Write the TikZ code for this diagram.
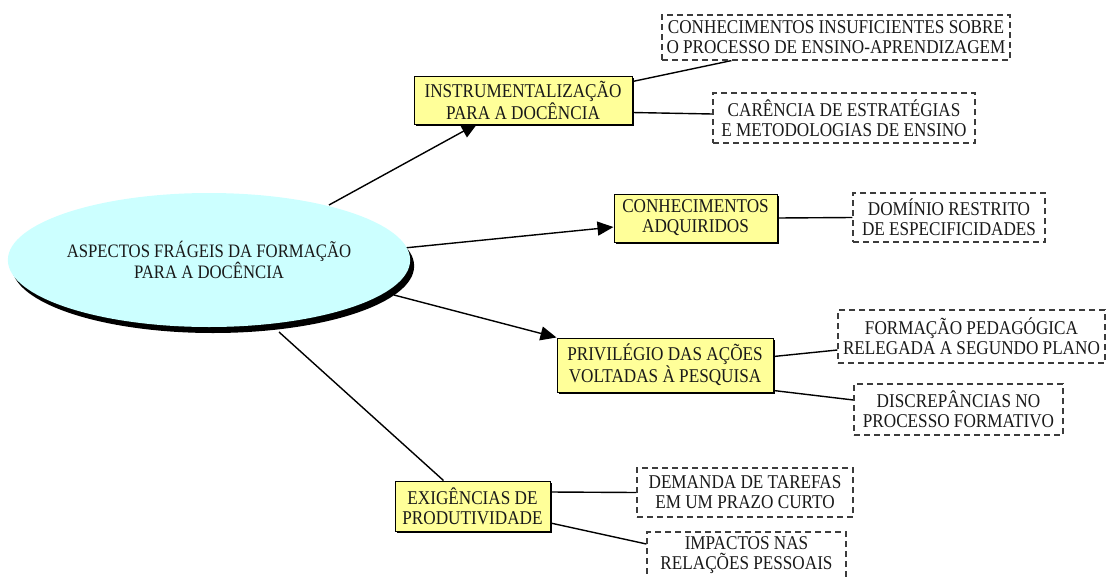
\documentclass[tikz,border=0pt]{standalone}
\usepackage{fontspec}
\setmainfont[FakeStretch=0.88]{Liberation Serif}
\usetikzlibrary{shapes.geometric,arrows.meta,calc,shadows}
\pgfdeclarelayer{background}
\pgfsetlayers{background,main}
\definecolor{cyanfill}{RGB}{204,255,255}
\definecolor{yelfill}{RGB}{255,255,153}
\definecolor{txt}{RGB}{25,25,25}
\definecolor{dashc}{RGB}{60,60,60}
\begin{document}
\begin{tikzpicture}[x=1pt,y=-1pt,
  every node/.style={text=txt, align=center, inner sep=0pt},
  mainell/.style={ellipse, fill=cyanfill, minimum width=398pt, minimum height=134pt,
    drop shadow={shadow xshift=4pt, shadow yshift=-6pt, fill=black, opacity=1},
    font=\fontsize{19}{20}\selectfont},
  ybox/.style={rectangle, fill=yelfill, draw=black, line width=1pt,
    drop shadow={shadow xshift=2pt, shadow yshift=-2pt, fill=black, opacity=1},
    font=\fontsize{19.5}{20}\selectfont},
  dbox/.style={rectangle, fill=white, draw=dashc, line width=1.2pt,
    dash pattern=on 6pt off 4pt, font=\fontsize{19.5}{20}\selectfont},
  conn/.style={draw=black, line width=1.4pt},
  arr/.style={conn, -{Triangle[length=16pt,width=14pt]}}
]
\useasboundingbox (0,0) rectangle (1109,576);

\node[mainell] (el) at (209,260) {ASPECTOS FRÁGEIS DA FORMAÇÃO\\PARA A DOCÊNCIA};

\node[ybox, minimum width=218pt, minimum height=48pt] (b1) at (523,100) {INSTRUMENTALIZAÇÃO\\PARA A DOCÊNCIA};
\node[ybox, minimum width=163pt, minimum height=48pt] (b2) at (695.5,218) {CONHECIMENTOS\\ADQUIRIDOS};
\node[ybox, minimum width=216pt, minimum height=54pt] (b3) at (665,365) {PRIVILÉGIO DAS AÇÕES\\VOLTADAS À PESQUISA};
\node[ybox, minimum width=155pt, minimum height=50pt] (b4) at (472.5,506) {EXIGÊNCIAS DE\\PRODUTIVIDADE};

\node[dbox, minimum width=348pt, minimum height=45pt] (d1) at (836,37.5) {CONHECIMENTOS INSUFICIENTES SOBRE\\O PROCESSO DE ENSINO-APRENDIZAGEM};
\node[dbox, minimum width=262pt, minimum height=50pt] (d2) at (844,118) {CARÊNCIA DE ESTRATÉGIAS\\E METODOLOGIAS DE ENSINO};
\node[dbox, minimum width=192pt, minimum height=49pt] (d3) at (949,217.5) {DOMÍNIO RESTRITO\\DE ESPECIFICIDADES};
\node[dbox, minimum width=267pt, minimum height=53pt] (d4) at (971.5,336.5) {FORMAÇÃO PEDAGÓGICA\\RELEGADA A SEGUNDO PLANO};
\node[dbox, minimum width=209pt, minimum height=51pt] (d5) at (958.5,409.5) {DISCREPÂNCIAS NO\\PROCESSO FORMATIVO};
\node[dbox, minimum width=216pt, minimum height=49pt] (d6) at (745,492.5) {DEMANDA DE TAREFAS\\EM UM PRAZO CURTO};
\node[dbox, minimum width=199pt, minimum height=46pt] (d7) at (746.5,555) {IMPACTOS NAS\\RELAÇÕES PESSOAIS};

\begin{pgfonlayer}{background}
  \draw[arr] ($(el.center)+(120,-55)$) -- ($(b1.south west)+(64,-1)$);
  \draw[arr] ($(el.center)+(195,-12)$) -- ($(b2.west)+(0,9)$);
  \draw[arr] ($(el.center)+(185,35)$) -- (b3.north west);
  \draw[conn] ($(el.center)+(70,72)$) -- ($(b4.north west)+(49,0)$);

  \draw[conn] ($(b1.north east)+(0,6)$) -- ($(d1.south west)+(70,0)$);
  \draw[conn] ($(b1.south east)+(0,-12)$) -- ($(d2.west)+(0,-4)$);
  \draw[conn] (b2.east) -- (d3.west);
  \draw[conn] ($(b3.north east)+(0,19)$) -- ($(d4.west)+(0,13.5)$);
  \draw[conn] ($(b3.south east)+(0,-2)$) -- ($(d5.west)+(0,-9.5)$);
  \draw[conn] ($(b4.east)+(0,-14)$) -- (d6.west);
  \draw[conn] ($(b4.east)+(0,17)$) -- ($(d7.west)+(0,-11)$);
\end{pgfonlayer}
\end{tikzpicture}
\end{document}
